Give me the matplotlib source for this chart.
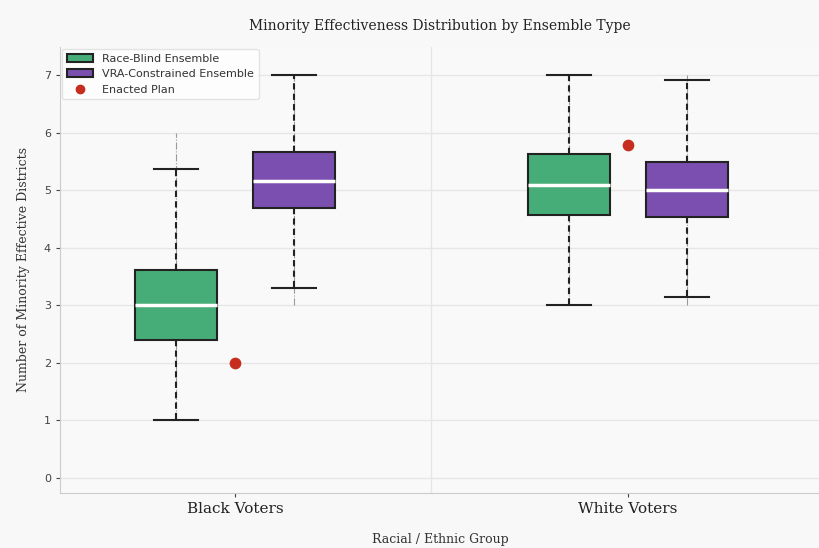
import numpy as np
import matplotlib.pyplot as plt
from matplotlib.patches import Patch
from matplotlib.lines import Line2D

#%% data
groups = ['Black Voters', 'White Voters']
ensembles = ['Race-Blind Ensemble', 'VRA-Constrained Ensemble']

# five-number summaries per group: [whislo, q1, med, q3, whishi]
blind_stats = [[1.0, 2.40, 3.0, 3.61, 5.37],
               [3.0, 4.57, 5.09, 5.63, 7.0]]
vra_stats = [[3.30, 4.70, 5.17, 5.66, 7.0],
             [3.14, 4.53, 5.0, 5.49, 6.92]]
# full range (min, max) of each ensemble
blind_range = [[1.0, 6.0], [3.0, 7.0]]
vra_range = [[3.0, 7.0], [3.0, 7.0]]

enacted = [2.0, 5.78]

green = '#47ad78'
purple = '#7b4fb0'
red = '#c62d1f'

#%%
fig = plt.figure(figsize=(8.2, 5.48), dpi=100)
fig.patch.set_facecolor('#f8f8f8')
ax = fig.add_axes([60/820, 55/548, 760/820, 446/548])
ax.set_facecolor('#f9f9f9')

x = np.arange(len(groups))
off = 0.15
width = 0.21

def mk(s):
    return dict(whislo=s[0], q1=s[1], med=s[2], q3=s[3], whishi=s[4], fliers=[])

for stats, rng, pos, col in [(blind_stats, blind_range, x - off, green),
                             (vra_stats, vra_range, x + off, purple)]:
    for p, r in zip(pos, rng):
        ax.plot([p, p], r, color='#9a9a9a', lw=0.8, ls='-.', zorder=1)
    ax.bxp([mk(s) for s in stats], positions=pos, widths=width, patch_artist=True,
           showfliers=False,
           boxprops=dict(facecolor=col, edgecolor='#222222', linewidth=1.5),
           medianprops=dict(color='white', linewidth=2.5),
           whiskerprops=dict(color='#222222', linewidth=1.5, linestyle=(0, (3, 2))),
           capprops=dict(color='#222222', linewidth=1.5),
           capwidths=width * 0.53, zorder=2)

ax.scatter(x, enacted, color=red, s=55, zorder=4)

ax.set_xticks(x)
ax.set_xticklabels(groups, fontsize=11, family='DejaVu Serif')
ax.set_xlim(-0.445, 1.489)
ax.set_ylim(-0.26, 7.49)
ax.set_yticks(range(0, 8))
ax.tick_params(axis='y', labelsize=8, colors='#444444', length=3)
ax.tick_params(axis='x', length=3, colors='#444444', labelcolor='#222222')

ax.grid(True, axis='y', color='#e6e6e6', linewidth=1)
ax.axvline(0.5, color='#e6e6e6', linewidth=1, zorder=0)
ax.set_axisbelow(True)
for sp in ['top', 'right']:
    ax.spines[sp].set_visible(False)
for sp in ['left', 'bottom']:
    ax.spines[sp].set_color('#cccccc')

ax.set_title('Minority Effectiveness Distribution by Ensemble Type',
             family='DejaVu Serif', fontsize=10, color='#222222', pad=12)
ax.set_xlabel('Racial / Ethnic Group', family='DejaVu Serif', fontsize=9, color='#333333', labelpad=12)
ax.set_ylabel('Number of Minority Effective Districts', family='DejaVu Serif', fontsize=9,
              color='#333333', labelpad=10)

handles = [Patch(facecolor=green, edgecolor='#222222', linewidth=1.5, label=ensembles[0]),
           Patch(facecolor=purple, edgecolor='#222222', linewidth=1.5, label=ensembles[1]),
           Line2D([], [], marker='o', color=red, ls='', markersize=6, label='Enacted Plan')]
leg = ax.legend(handles=handles, loc='upper left', fontsize=8, frameon=True, handlelength=2.4,
                facecolor='white', edgecolor='#dddddd', borderaxespad=0.2)
for t in leg.get_texts():
    t.set_color('#333333')

plt.savefig('out.png', dpi=100, facecolor=fig.get_facecolor())
